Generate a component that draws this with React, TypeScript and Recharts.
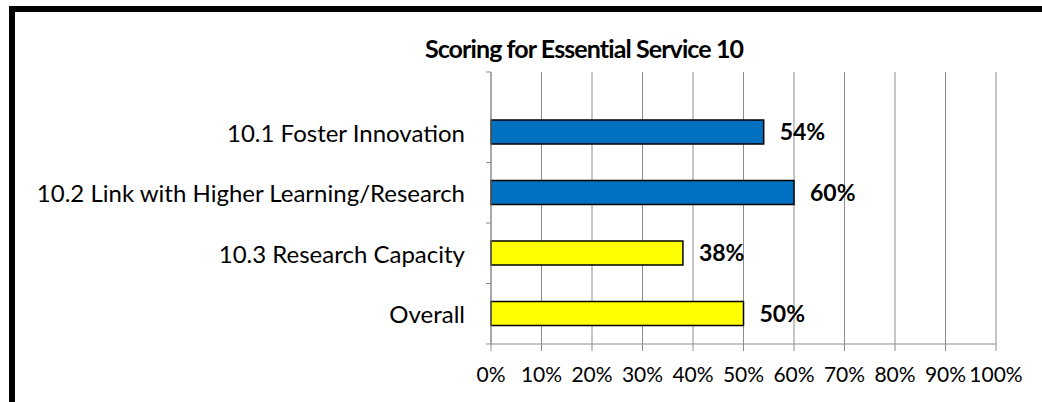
import React from "react";
import {
  BarChart,
  Bar,
  XAxis,
  YAxis,
  CartesianGrid,
  Cell,
  LabelList,
} from "recharts";

const categories = [
  "10.1 Foster Innovation",
  "10.2 Link with Higher Learning/Research",
  "10.3 Research Capacity",
  "Overall",
];
const scores = [54, 60, 38, 50];
const barColors = ["#0070C0", "#0070C0", "#FFFF00", "#FFFF00"];
const xTicks = [0, 10, 20, 30, 40, 50, 60, 70, 80, 90, 100];

const data = categories.map((name, i) => ({ name, value: scores[i], color: barColors[i] }));

const W = 1042;
const H = 402;
const PLOT_TOP = 72;
const PLOT_BOTTOM = 344;
const PLOT_LEFT = 491;
const PLOT_RIGHT = 996;
const TOP_PAD = 30;
const BAND = (PLOT_BOTTOM - PLOT_TOP - TOP_PAD) / categories.length;
const FONT = "Lato, 'Liberation Sans', sans-serif";
const GRID = "#8c8c8c";

// category label plus a tick mark at the lower edge of each band (Excel style)
function CategoryTick(props: any) {
  const { y, payload, index } = props;
  return (
    <g>
      <text
        x={PLOT_LEFT - 26}
        y={y}
        textAnchor="end"
        dominantBaseline="central"
        fontFamily={FONT}
        fontSize={24}
        fill="#000"
      >
        {payload.value}
      </text>
      <line x1={PLOT_LEFT - 5} x2={PLOT_LEFT} y1={y + BAND / 2} y2={y + BAND / 2} stroke={GRID} />
      {index === 0 && (
        <line
          x1={PLOT_LEFT - 5}
          x2={PLOT_LEFT}
          y1={y - BAND / 2 - TOP_PAD}
          y2={y - BAND / 2 - TOP_PAD}
          stroke={GRID}
        />
      )}
    </g>
  );
}

export default function App() {
  return (
    <div style={{ position: "absolute", left: 0, top: 0, width: W, height: H, background: "#fff" }}>
      <div
        style={{
          position: "absolute",
          left: 9,
          top: 6,
          width: W,
          height: H,
          borderLeft: "6px solid #000",
          borderTop: "6px solid #000",
        }}
      />
      <div
        style={{
          position: "absolute",
          left: 384,
          width: 400,
          top: 33,
          textAlign: "center",
          fontFamily: FONT,
          fontWeight: 700,
          fontSize: 25,
          letterSpacing: -0.9,
          lineHeight: "30px",
        }}
      >
        Scoring for Essential Service 10
      </div>
      <div style={{ position: "absolute", left: 0, top: 0 }}>
        <BarChart
          width={W}
          height={H}
          data={data}
          layout="vertical"
          margin={{ top: PLOT_TOP, right: W - PLOT_RIGHT, bottom: H - PLOT_BOTTOM - 45, left: 0 }}
        >
          <CartesianGrid horizontal={false} stroke={GRID} />
          <XAxis
            type="number"
            domain={[0, 100]}
            ticks={xTicks}
            tickFormatter={(v: number) => `${v}%`}
            height={45}
            stroke={GRID}
            tickSize={7}
            tick={{ fill: "#000", fontSize: 21, fontFamily: FONT }}
            tickMargin={16}
          />
          <YAxis
            type="category"
            dataKey="name"
            width={PLOT_LEFT}
            padding={{ top: TOP_PAD, bottom: 0 }}
            stroke={GRID}
            tickLine={false}
            tick={<CategoryTick />}
            interval={0}
          />
          <Bar dataKey="value" barSize={24} stroke="#000" strokeWidth={1.5} isAnimationActive={false}>
            {data.map((d, i) => (
              <Cell key={i} fill={d.color} />
            ))}
            <LabelList
              dataKey="value"
              position="right"
              offset={16}
              formatter={(v: any) => `${v}%`}
              fill="#000"
              fontSize={23}
              fontWeight={700}
              fontFamily={FONT}
            />
          </Bar>
        </BarChart>
      </div>
    </div>
  );
}
